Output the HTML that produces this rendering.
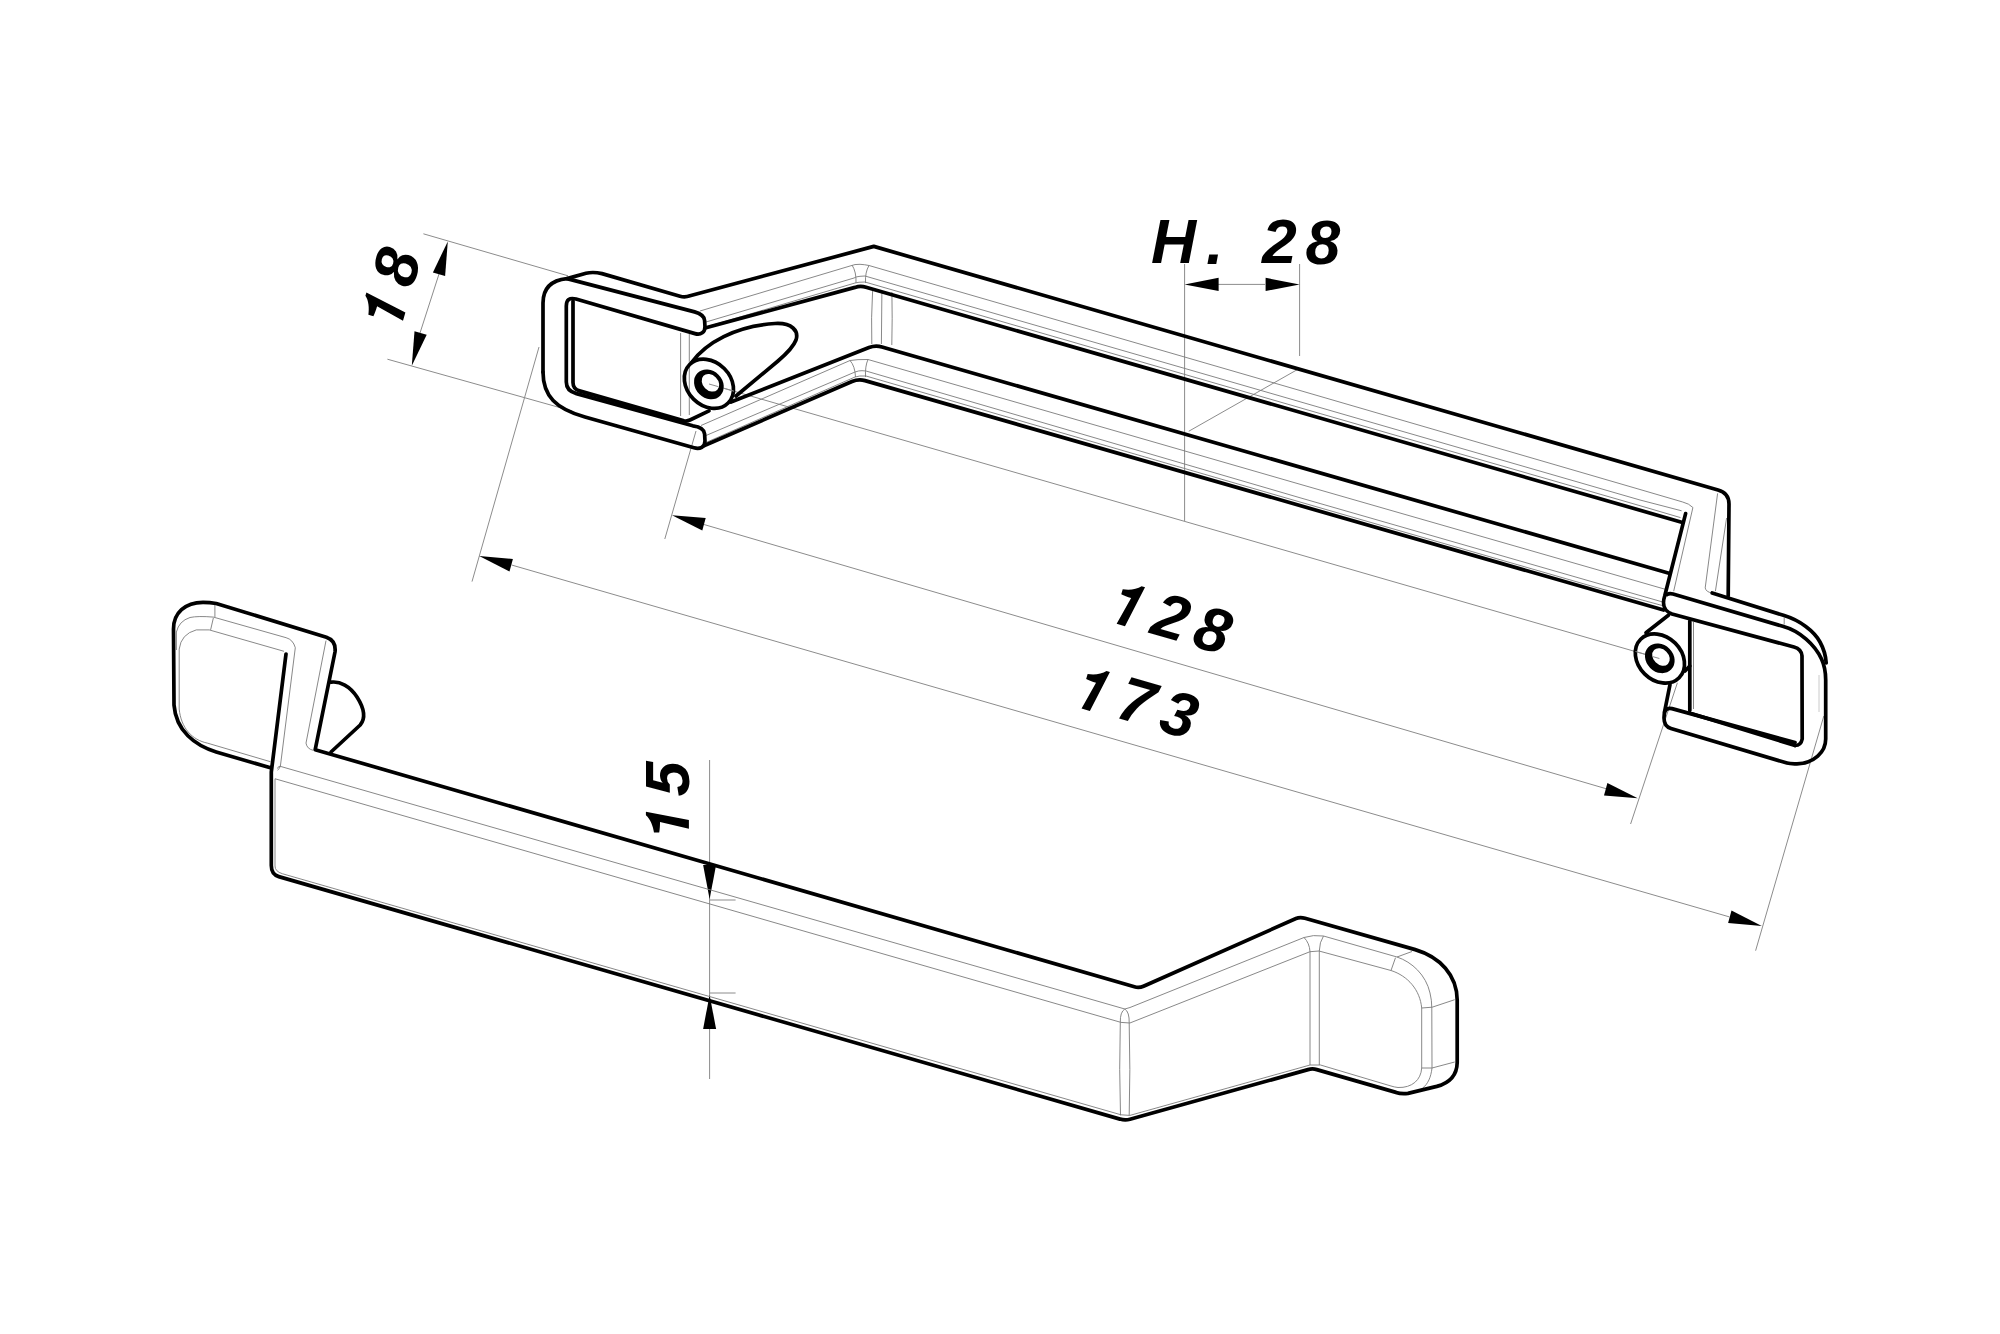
<!DOCTYPE html>
<html><head><meta charset="utf-8"><title>Handle drawing</title>
<style>
html,body{margin:0;padding:0;background:#fff;width:2000px;height:1334px;overflow:hidden}
svg{display:block}
.k{fill:none;stroke:#000;stroke-width:3.7;stroke-linecap:round;stroke-linejoin:round}
.t{fill:none;stroke:#7a7a7a;stroke-width:0.9}
.d{fill:none;stroke:#8c8c8c;stroke-width:1}
.a{fill:#000;stroke:none}
text{font-family:"Liberation Sans",sans-serif;font-weight:bold;font-style:italic;font-size:62.5px;fill:#000}
</style></head>
<body>
<svg width="2000" height="1334" viewBox="0 0 2000 1334">
<rect width="2000" height="1334" fill="#fff"/>

<!-- ============ DIMENSION LINES ============ -->
<g id="dims">
<!-- 18 -->
<path class="d" d="M423.4,233.8 L568,275.8 M387.4,359.2 L572,411 M439,274 L420,333"/>
<path class="a" d="M447.8,241.4 L445.1,275.9 L432.9,272.4 Z"/>
<path class="a" d="M411.8,365.8 L414.5,331.3 L426.7,334.8 Z"/>
<!-- H. 28 -->
<path class="d" d="M1184.6,264 L1184.6,521 M1299.6,264 L1299.6,356 M1218,284.4 L1265,284.4 M1188.75,431.25 L1297.5,369.5"/>
<path class="a" d="M1184.6,284.4 L1218.6,277.8 L1218.6,291 Z"/>
<path class="a" d="M1299.6,284.4 L1265.6,277.8 L1265.6,291 Z"/>
<!-- 128 -->
<path class="d" d="M696,431 L664.8,539 M1677.4,682.8 L1630.6,824 M704,524.5 L1606,788.7 M709,384 L1659.4,658.5"/>
<path class="a" d="M672,515.2 L705.7,518.1 L702.3,530.6 Z"/>
<path class="a" d="M1637.7,798.3 L1604,795.4 L1607.4,782.9 Z"/>
<!-- 173 -->
<path class="d" d="M539,347 L472,581.6 M1823.8,716 L1755.6,950.7 M511.6,565 L1729.4,916.9"/>
<path class="a" d="M479.2,556 L512.9,559 L509.5,571.5 Z"/>
<path class="a" d="M1761.8,925.9 L1728.1,922.9 L1731.5,910.4 Z"/>
<!-- 15 -->
<path class="d" d="M709.6,760 L709.6,1079 M709.6,900 L735.6,900 M709.6,993 L735.6,993"/>
<path class="a" d="M709.6,899 L703.1,865 L716.1,865 Z"/>
<path class="a" d="M709.6,995 L703.1,1029 L716.1,1029 Z"/>
</g>

<!-- ============ TEXT ============ -->
<g id="txt">
<text transform="translate(1151.0 262.9)">H</text>
<text transform="translate(1206.1 263.7)">.</text>
<text transform="translate(1261.9 263.2)">2</text>
<text transform="translate(1305.5 263.5)">8</text>
<path class="a" transform="translate(399.8 331.8) rotate(-73.9) scale(0.030518 -0.030518)" d="M377,0 L596,947 C470,945 350,955 252,973 L252,1144 C450,1170 700,1260 819,1409 L936,1409 L661,0 Z"/>
<text transform="translate(412.2 289.4) rotate(-73.9)">8</text>
<path class="a" transform="translate(1105.6 620.6) rotate(16.2) scale(0.030518 -0.030518)" d="M377,0 L596,947 C470,945 350,955 252,973 L252,1144 C450,1170 700,1260 819,1409 L936,1409 L661,0 Z"/>
<text transform="translate(1148.5 632.7) rotate(16.2)">2</text>
<text transform="translate(1190.3 645.5) rotate(16.2)">8</text>
<path class="a" transform="translate(1070.5 705.4) rotate(16.2) scale(0.030518 -0.030518)" d="M377,0 L596,947 C470,945 350,955 252,973 L252,1144 C450,1170 700,1260 819,1409 L936,1409 L661,0 Z"/>
<text transform="translate(1113.9 717.0) rotate(16.2)">7</text>
<text transform="translate(1156.7 730.0) rotate(16.2)">3</text>
<path class="a" transform="translate(688.9 840.2) rotate(-90) scale(0.030518 -0.030518)" d="M377,0 L596,947 C470,945 350,955 252,973 L252,1144 C450,1170 700,1260 819,1409 L936,1409 L661,0 Z"/>
<text transform="translate(689.2 796.2) rotate(-90)">5</text>
</g>

<!-- ============ TOP HANDLE ============ -->
<g id="top">
<!-- top face fillet lines (between A and B) -->
<path class="t" d="M700,311 L850,266 Q855,264 860,264.3 Q865,264.6 869,265.5 L1300,390.5 L1640,489.5 L1682.7,502 Q1689,503.5 1692.9,507.5 L1673.7,591.2"/>
<path class="t" d="M706,322 L854,278 Q856,276.6 860,276.3 L865,276 L1300,401.75 L1640,500 L1681.6,510.8"/>
<path class="t" d="M706,327 L855,283 Q858,282 865,282 L1300,407.75 L1640,505.7 L1680.5,517.6"/>
<path class="t" d="M852,265 Q856.5,272 856,283 M869,265.5 Q865,272 865.5,283"/>
<!-- vertical fillets between B and C at the bend -->
<path class="t" d="M872.6,291 Q871,318 871.8,344 M881.9,291 L881.4,344 M891.9,292 Q892.5,318 891.8,345"/>
<!-- bottom face fillet lines (between C and D) -->
<path class="t" d="M701,425.5 L850,360.5 Q857,359.3 868,359.5 L1300,484.25 L1600,570.5 L1666,589.5"/>
<path class="t" d="M706,435.5 L855,372 Q859,370.5 862,370.7 L866,371 L1300,497.75 L1600,584 L1664.5,602.5"/>
<path class="t" d="M706,442.5 L855,377 Q859,375.5 866,376 L1300,502 L1600,588.5 L1664,606"/>
<path class="t" d="M850,360.5 Q855,366 855.5,377 M868,359.5 Q865,366 865.5,377"/>
<!-- left end verticals -->
<path class="t" d="M680.6,333 L680.6,416 M689.3,334 L689.3,415"/>
<!-- right end face -->
<path class="t" d="M1717.6,493.4 L1705.2,587.9 Q1706,592 1712,593 M1726.6,518 L1715.4,591.2"/>
<path class="t" d="M1693.5,622 L1693.5,709 M1784.2,617.5 L1784.2,624.5"/>
<path d="M1819,675 L1819,712" stroke="#bdbdbd" stroke-width="0.8" fill="none"/>
<!-- outer silhouette: left loop top + line A + right end -->
<path class="k" d="M543,372 L543,303 Q543,281 567,278.6 L586,273.3 Q593,271.6 602,273.6 L680,296.2 Q685,297.6 690,295.8 L873.8,246.4 L1718,490 Q1729,493 1729,504 L1728.2,596"/>
<!-- left loop bottom + cap of bottom arm -->
<path class="k" d="M543,372 C543,396 556,409 585,417 L694,447.8 C700,449.5 705,447 705,441 L704.6,434 C704.2,429 699,426.5 692.8,425.8 L576.5,393.6 Q566.3,391 566.3,382 L566.3,306 Q566.3,296.5 576,299 L695,333.6 C701,335.3 705,332 705,327 L704.6,320.5 C704.2,315.5 700,313.4 694.6,311.9 L567,278.6"/>
<!-- inner vertical + band upper line to boss -->
<path class="k" d="M573,301 L573,382.5 Q573,389 579.5,390.9 L684,420.8 Q687,421.4 690,420 L709,410.8"/>
<!-- line B -->
<path class="k" d="M705,328 L855,287.4 Q860.5,285.6 866,287.3 L1681.6,522.2"/>
<!-- line C -->
<path class="k" d="M731,402 L869,347.5 Q875.5,345 882,347 L1669,573.2"/>
<!-- line D -->
<path class="k" d="M704.5,445.5 L852,381.5 Q858.5,378.8 865,380.6 L1663.6,610"/>
<!-- left boss -->
<path class="k" d="M692,362 C706,343 735,326 775,323.5 C792,322.5 799,331 796,340 C793,348 785,355 778,361 L736,396"/>
<ellipse class="k" cx="708.9" cy="383.8" rx="27.2" ry="21.7" transform="rotate(45 708.9 383.8)" fill="#fff"/>
<ellipse cx="708.9" cy="384.4" rx="16" ry="13.6" transform="rotate(45 708.9 384.4)" fill="#000"/>
<ellipse cx="710.45" cy="382.8" rx="9.8" ry="7.6" transform="rotate(45 710.45 382.8)" fill="#fff"/>
<path class="d" d="M709,384 L718.5,386.7 M723.8,388.2 L734,391.2"/>
<!-- right end slanted + vertical -->
<path class="k" d="M1685.6,513.6 L1664.7,596 C1662,604 1664,611 1672,614 L1794,647 Q1801.5,649 1802,656 L1802.2,739 Q1801,745.5 1795,745.5"/>
<path class="k" d="M1667,594.6 Q1669,593 1673,594 L1782.7,626.3 C1800,631 1815,645 1821.5,659 Q1825.7,668 1825.7,680 L1825.7,739 C1825.7,752 1814,763.5 1797,763.8 Q1790,764 1787,763.1 L1671,728.5 C1666,727 1664,723 1664,718 L1664.3,714 C1664.6,709.5 1668,707.5 1672,708.6 L1795,742.5"/>
<path class="k" d="M1712.2,593 L1784.2,615.6 C1800,620.5 1814,631 1820,642 Q1825.5,652 1826.2,663"/>
<path class="k" d="M1689.8,621 L1689.8,710.5 M1692,713.8 L1795,745.5"/>
<!-- right boss -->
<path class="k" d="M1668.4,615.3 L1646,632.8 M1670,684.6 L1664.5,712 M1685,671 L1689.8,666"/>
<ellipse class="k" cx="1659.9" cy="658.5" rx="27.2" ry="21.7" transform="rotate(45 1659.9 658.5)" fill="#fff"/>
<ellipse cx="1659.8" cy="658.3" rx="16" ry="13.6" transform="rotate(45 1659.8 658.3)" fill="#000"/>
<ellipse cx="1661" cy="657" rx="9.8" ry="7.6" transform="rotate(45 1661 657)" fill="#fff"/>
<path class="d" d="M1635.5,651.5 L1645,654.2 M1652,656.4 L1659.4,658.5"/>
</g>

<!-- ============ BOTTOM HANDLE ============ -->
<g id="bot">
<!-- main bar fillets -->
<path class="t" d="M277.5,768.5 Q278,766.3 280,766.25 L1124.8,1009 L1130,1007.5 L1304,937.5 Q1313,934.5 1323.5,936 L1397,957 C1412,962 1426,975 1430,993 Q1431.8,1000 1431.8,1008 L1432,1068 C1431,1077 1428,1084 1422.5,1088.2"/>
<path class="t" d="M275,778.75 L1121,1022.4 L1129.9,1023 L1310,951.7 L1319,951 L1391,970.5 C1408,976 1420,990 1421.7,1008 L1421.7,1068 C1421,1080 1412,1088 1398,1087.5 Q1394,1087 1391,1086 L1320.5,1065 L1310,1065 L1129.9,1115.4 L1121,1114.8 L282.5,873.75 Q275,871.5 275,866 L275,778.75"/>
<path class="t" d="M1120.3,1022.4 Q1119,1070 1120.5,1115.4 M1129.2,1023 Q1130.5,1070 1129.2,1115.4 M1120.3,1022.4 Q1120,1012 1124.8,1009 Q1129.5,1012 1129.2,1023"/>
<path class="t" d="M1310,951.7 L1310,1065 M1319.3,951 L1319.3,1065 M1304,937.5 Q1309.5,943 1310,951.7 M1323.5,936 Q1319.5,942 1319.3,951"/>
<path class="t" d="M1397,957 L1412,951.5 M1391,970.5 L1395.5,957.7 M1421.7,1008 L1432.2,1007.2 L1454.7,999.7 M1421.7,1068 L1432,1068 L1454.7,1062"/>
<!-- tab fillets -->
<path class="t" d="M176.4,632 Q179,621 190,617.5 Q198,615.8 213.4,617.1 L286.1,637.7 Q293,639.5 295.3,647.7 L280.4,766 Q279.5,769 277.5,770.2"/>
<path class="t" d="M179.2,709 L179.2,649.1 Q181,634 196.3,629.9 L209.2,629.9 L284,651.3"/>
<path class="t" d="M176.4,632 L176.4,650 M179.2,709 C181,728 192,740 207.7,743.2 L270.4,761.7"/>
<path class="t" d="M214.9,604.3 L214.9,617.1 M213.4,617.8 L210.6,629.9"/>
<path class="t" d="M326,640.6 L306,743.1 Q307,749 313.2,750.3"/>
<!-- tab outline -->
<path class="k" d="M271.3,768 L216.2,752 C195,745.5 176,731 174,705 L173.5,629 C173.5,613 185,602.5 203,602.4 Q210,602.5 216.2,603.5 L326.4,637.2 C333,639.5 335.8,645 335,652 L315.2,749.7 L1134.4,986.8 Q1139,988.3 1143.5,986.2 L1296,918.5 Q1300,916.8 1305,918.3 L1415.2,949.6 C1440,957 1457,975 1457.2,1000 L1457.2,1062.4 C1457,1075 1449,1083 1436.8,1086.4 L1408,1093.4 Q1401,1094.2 1396,1092.4 L1316.8,1069.6 Q1312.5,1068.3 1308,1069.6 L1130,1119.3 Q1125,1120.7 1120,1119.1 L278.75,876.6 Q271.3,874.3 271.3,865.5 L271.3,772 L286,654"/>
<!-- boss semicircle -->
<path class="k" d="M331,682.2 C340,681 350,686 357,697 C364,708 366,718 360.2,725 L331,752"/>
</g>
</svg>
</body></html>
